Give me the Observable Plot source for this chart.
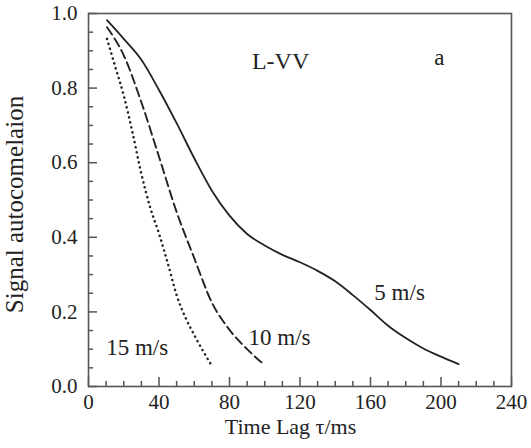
<!DOCTYPE html>
<html>
<head>
<meta charset="utf-8">
<script src="https://cdn.jsdelivr.net/npm/d3@7"></script>
<script src="https://cdn.jsdelivr.net/npm/@observablehq/plot@0.6"></script>
<style>
  body { margin: 0; background: #ffffff; }
  #chart svg { display: block; }
</style>
</head>
<body>
<div id="chart"></div>
<script>
// Series: 5 m/s (solid)
const lag5 = [10.5, 20, 30, 40, 50, 60, 70, 80, 90, 100, 110, 120, 130, 140, 150, 160, 170, 180, 190, 200, 210];
const acf5 = [0.982, 0.932, 0.876, 0.795, 0.706, 0.612, 0.525, 0.458, 0.409, 0.378, 0.353, 0.333, 0.310, 0.282, 0.245, 0.205, 0.163, 0.130, 0.102, 0.080, 0.060];
// Series: 10 m/s (dashed)
const lag10 = [10.5, 20, 30, 40, 50, 60, 70, 80, 90, 100];
const acf10 = [0.963, 0.888, 0.762, 0.616, 0.468, 0.344, 0.225, 0.152, 0.100, 0.057];
// Series: 15 m/s (dotted)
const lag15 = [10.5, 15, 20, 25, 30, 35, 40, 45, 50, 55, 60, 65, 70];
const acf15 = [0.932, 0.860, 0.780, 0.680, 0.570, 0.480, 0.410, 0.330, 0.245, 0.185, 0.138, 0.095, 0.055];

// Ticks
const xMajor = [0, 40, 80, 120, 160, 200, 240];
const xMinor = [10, 20, 30, 50, 60, 70, 90, 100, 110, 130, 140, 150, 170, 180, 190, 210, 220, 230];
const yMajor = [0, 0.2, 0.4, 0.6, 0.8, 1.0];
const yMinor = [0.05, 0.1, 0.15, 0.25, 0.3, 0.35, 0.45, 0.5, 0.55, 0.65, 0.7, 0.75, 0.85, 0.9, 0.95];

// Annotations
const seriesLabels = ["5 m/s", "10 m/s", "15 m/s"];
const labelX = [176.5, 108.4, 27.6];
const labelY = [0.253, 0.132, 0.103];
const panelText = ["L-VV", "a"];
const panelX = [109, 199];
const panelY = [0.872, 0.882];
const xTitle = "Time Lag τ/ms";
const yTitle = "Signal autocomelaion";

const toRows = (xs, ys) => xs.map((x, i) => ({lag: x, acf: ys[i]}));
const s5 = toRows(lag5, acf5);
const s10 = toRows(lag10, acf10);
const s15 = toRows(lag15, acf15);
const labelRows = seriesLabels.map((t, i) => ({t, lag: labelX[i], acf: labelY[i]}));
const xMinorRows = xMinor.map(v => ({lag: v}));
const xMajorRows = xMajor.map(v => ({lag: v}));
const yMinorRows = yMinor.map(v => ({acf: v}));
const yMajorRows = yMajor.map(v => ({acf: v}));

const W = 531, H = 448, ML = 88, MR = 20, MT = 13, MB = 62;
const frameW = W - ML - MR, frameH = H - MT - MB;
const ink = "#222";
const axisInk = "#555";

const chart = Plot.plot({
  width: W,
  height: H,
  marginLeft: ML,
  marginRight: MR,
  marginTop: MT,
  marginBottom: MB,
  style: {
    fontFamily: "'Liberation Serif', 'Times New Roman', serif",
    fontSize: "20px",
    color: ink,
    background: "#ffffff"
  },
  x: {domain: [0, 240]},
  y: {domain: [0, 1]},
  marks: [
    Plot.line(s5, {x: "lag", y: "acf", curve: "monotone-x", stroke: ink, strokeWidth: 1.8}),
    Plot.line(s10, {x: "lag", y: "acf", curve: "monotone-x", stroke: ink, strokeWidth: 1.9, strokeDasharray: "9,4.5"}),
    Plot.line(s15, {x: "lag", y: "acf", curve: "monotone-x", stroke: ink, strokeWidth: 2.5, strokeDasharray: "0.1,5", strokeLinecap: "round"}),
    // inward ticks
    Plot.ruleX(xMinorRows, {x: "lag", insetTop: frameH - 5, stroke: axisInk, strokeWidth: 1.5}),
    Plot.ruleX(xMajorRows, {x: "lag", insetTop: frameH - 9, stroke: axisInk, strokeWidth: 1.5}),
    Plot.ruleY(yMinorRows, {y: "acf", insetRight: frameW - 5, stroke: axisInk, strokeWidth: 1.5}),
    Plot.ruleY(yMajorRows, {y: "acf", insetRight: frameW - 9, stroke: axisInk, strokeWidth: 1.5}),
    // tick labels
    Plot.axisX(xMajor, {anchor: "bottom", tickSize: 0, tickPadding: 8, tickFormat: d => String(d), label: null, fill: ink, fontSize: 21}),
    Plot.axisY(yMajor, {anchor: "left", tickSize: 0, tickPadding: 11, tickFormat: d => d.toFixed(1), label: null, fill: ink, fontSize: 21}),
    Plot.frame({stroke: axisInk, strokeWidth: 1.6}),
    Plot.text(labelRows, {x: "lag", y: "acf", text: "t", fontSize: 23, fill: ink}),
    Plot.text([panelText[0]], {x: panelX[0], y: panelY[0], text: d => d, fontSize: 24, fill: ink}),
    Plot.text([panelText[1]], {x: panelX[1], y: panelY[1], text: d => d, fontSize: 23, fill: ink}),
    Plot.text([xTitle], {frameAnchor: "bottom", textAnchor: "middle", text: d => d, dx: -9.5, dy: 47, fontSize: 22, fill: ink}),
    Plot.text([yTitle], {frameAnchor: "left", textAnchor: "middle", text: d => d, rotate: -90, dx: -74, dy: 4.5, fontSize: 25, fill: ink})
  ]
});
document.getElementById("chart").append(chart);
</script>
</body>
</html>
